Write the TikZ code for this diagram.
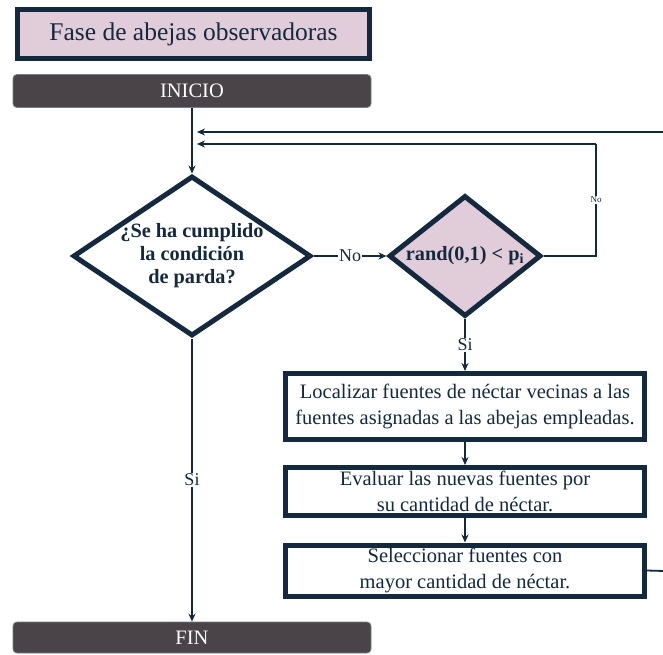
\documentclass[tikz,border=0pt]{standalone}
\usepackage{fontspec}
\setmainfont{Liberation Serif}
\usetikzlibrary{shapes.geometric,arrows.meta}
\definecolor{navy}{HTML}{14293D}
\definecolor{rosa}{HTML}{E1CCD9}
\definecolor{tope}{HTML}{4A4347}
\begin{document}
\begin{tikzpicture}[x=1pt,y=-1pt,
  flow/.style={draw=navy,line width=1.8pt,-{Stealth[length=8pt,width=7pt]}},
  plain/.style={draw=navy,line width=1.8pt},
  terminal/.style={rectangle,rounded corners=4pt,fill=tope,draw=navy!60,line width=0.8pt,
    text=white,minimum width=358pt,minimum height=33pt,font=\fontsize{20.5}{22}\selectfont},
  stepbox/.style={rectangle,draw=navy,line width=5pt,fill=white,text=navy,
    minimum width=359pt,align=center,font=\fontsize{20.5}{25.5}\selectfont},
  decision/.style={diamond,draw=navy,line width=5pt,inner sep=0pt},
  tag/.style={fill=white,text=navy,font=\fontsize{18}{20}\selectfont,inner sep=1pt},
  smalltag/.style={fill=white,text=navy,font=\fontsize{9}{10}\selectfont,inner sep=1pt},
]
\useasboundingbox (0,0) rectangle (663,654);
\fill[white] (0,0) rectangle (663,654);

% heading
\node[draw=navy,line width=5pt,fill=rosa,text=navy,minimum width=352pt,minimum height=49pt,
  font=\fontsize{25.5}{28}\selectfont] (title) at (193.5,34) {Fase de abejas observadoras};

% start / end
\node[terminal] (inicio) at (192,91) {INICIO};
\node[terminal,minimum height=31pt] (fin) at (192,637.5) {FIN};

% decisions
\node[decision,minimum width=238pt,minimum height=160pt] (d1) at (192,256) {};
\node[text=navy,align=center,font=\bfseries\fontsize{20.3}{23}\selectfont] at (d1)
  {¿Se ha cumplido\\la condición\\de parda?};
\node[decision,fill=rosa,minimum width=152pt,minimum height=121pt] (d2) at (465,256) {};
\node[text=navy,font=\bfseries\fontsize{20.3}{23}\selectfont] at (d2)
  {rand(0,1) < p\textsubscript{i}};

% process steps
\node[stepbox,minimum height=66pt] (b1) at (465,406.5)
  {Localizar fuentes de néctar vecinas a las\\fuentes asignadas a las abejas empleadas.};
\node[stepbox,minimum height=48pt] (b2) at (465,491.5)
  {Evaluar las nuevas fuentes por\\su cantidad de néctar.};
\node[stepbox,minimum height=50pt] (b3) at (465,570.5)
  {Seleccionar fuentes con\\mayor cantidad de néctar.};

% loop entry points
\coordinate (in1) at (197,132);
\coordinate (in2) at (197,144);
\coordinate (turn) at (596,144);
\coordinate (far) at (700,572);

% connectors
\draw[flow] (inicio) -- (d1);
\draw[flow] (d1.east) -- (d2.west) node[midway,tag] {No};
\draw[flow] (d2.south) -- (b1.north) node[midway,tag] {Si};
\draw[flow] (b1) -- (b2);
\draw[flow] (b2) -- (b3);
\draw[flow] (d1.south) -- (fin.north) node[midway,tag] {Si};
\draw[plain] (d2.east) -| (turn) node[pos=0.75,smalltag] {No};
\draw[flow] (turn) -- (in2);
\draw[flow] (b3.east) -- (far) |- (in1);
\end{tikzpicture}
\end{document}
